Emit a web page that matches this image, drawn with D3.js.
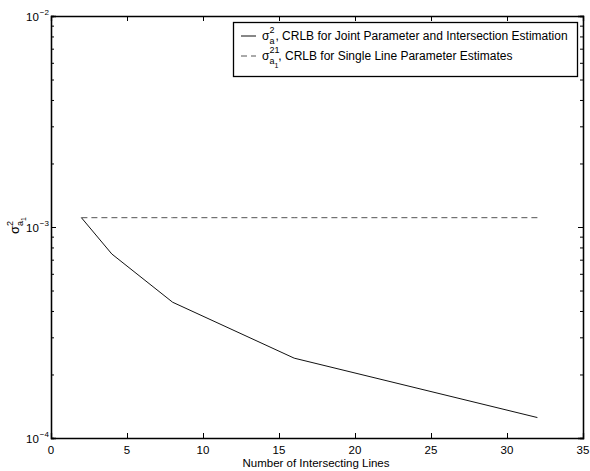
<!DOCTYPE html>
<html>
<head>
<meta charset="utf-8">
<script src="https://cdn.jsdelivr.net/npm/d3@7"></script>
<style>
  body { margin: 0; background: #fff; }
  text { font-family: "Liberation Sans", Arial, Helvetica, sans-serif; fill: #000; }
</style>
</head>
<body>
<div id="chart"></div>
<script>
// data
let lines = [2, 4, 8, 16, 32];
let jointCrlb = [1.107e-3, 7.45e-4, 4.40e-4, 2.39e-4, 1.25e-4];
let singleCrlb = [1.107e-3, 1.107e-3, 1.107e-3, 1.107e-3, 1.107e-3];
let xTicks = [0, 5, 10, 15, 20, 25, 30, 35];
let yTickExp = [-4, -3, -2];

let w = 590, h = 471;
let pLeft = 51, pRight = 583, pTop = 16, pBottom = 438;

let svg = d3.select("#chart").append("svg")
  .attr("width", w)
  .attr("height", h);

let x = d3.scaleLinear().domain([0, 35]).range([pLeft, pRight]);
let y = d3.scaleLog().domain([1e-4, 1e-2]).range([pBottom, pTop]);

// minor log ticks
let minor = [];
for (let e = -4; e < -2; e++) {
  for (let k = 2; k <= 9; k++) minor.push(k * Math.pow(10, e));
}
let major = yTickExp.map(e => Math.pow(10, e));

// axes: ticks inward on all four sides
svg.append("g")
  .attr("transform", "translate(0," + pBottom + ")")
  .call(d3.axisBottom(x).tickValues(xTicks).tickSize(-5).tickFormat(""));
svg.append("g")
  .attr("transform", "translate(0," + pTop + ")")
  .call(d3.axisTop(x).tickValues(xTicks).tickSize(-5).tickFormat(""));
svg.append("g")
  .attr("transform", "translate(" + pLeft + ",0)")
  .call(d3.axisLeft(y).tickValues(major).tickSize(-5).tickFormat(""));
svg.append("g")
  .attr("transform", "translate(" + pRight + ",0)")
  .call(d3.axisRight(y).tickValues(major).tickSize(-5).tickFormat(""));
svg.append("g")
  .attr("transform", "translate(" + pLeft + ",0)")
  .call(d3.axisLeft(y).tickValues(minor).tickSize(-3).tickFormat(""));
svg.append("g")
  .attr("transform", "translate(" + pRight + ",0)")
  .call(d3.axisRight(y).tickValues(minor).tickSize(-3).tickFormat(""));

svg.selectAll(".domain").attr("stroke", "#000").attr("stroke-width", 1.3);
svg.selectAll(".tick line").attr("stroke", "#000");

// x tick labels
svg.selectAll(".xlab")
  .data(xTicks)
  .enter()
  .append("text")
  .attr("x", d => x(d))
  .attr("y", pBottom + 16)
  .attr("text-anchor", "middle")
  .style("font-size", "11.5px")
  .text(d => d);

// y tick labels 10^e
let yl = svg.selectAll(".ylab")
  .data(yTickExp)
  .enter()
  .append("text")
  .attr("x", 26)
  .attr("y", d => y(Math.pow(10, d)) + 5)
  .style("font-size", "11.5px");
yl.append("tspan").text("10");
yl.append("tspan")
  .attr("dy", -6)
  .attr("dx", 1)
  .style("font-size", "8px")
  .text(d => "\u2212" + Math.abs(d));

// axis labels
svg.append("text")
  .attr("x", (pLeft + pRight) / 2 - 1)
  .attr("y", 467)
  .attr("text-anchor", "middle")
  .style("font-size", "11.5px")
  .text("Number of Intersecting Lines");

let ylab = svg.append("text")
  .attr("transform", "translate(19,234) rotate(-90)")
  .style("font-size", "13px");
ylab.append("tspan").text("\u03c3");
ylab.append("tspan").attr("dy", -6).style("font-size", "9px").text("2");
ylab.append("tspan").attr("dx", -5).attr("dy", 10).style("font-size", "9px").text("a");
ylab.append("tspan").attr("dy", 3).style("font-size", "7px").text("1");

// lines
let line = d3.line()
  .x((d, i) => x(lines[i]))
  .y(d => y(d));

svg.append("path")
  .attr("d", line(singleCrlb))
  .attr("fill", "none")
  .attr("stroke", "#555")
  .attr("stroke-width", 1)
  .attr("stroke-dasharray", "6,4");

svg.append("path")
  .attr("d", line(jointCrlb))
  .attr("fill", "none")
  .attr("stroke", "#111")
  .attr("stroke-width", 1);

// legend
let lg = svg.append("g");
lg.append("rect")
  .attr("x", 233.5)
  .attr("y", 22.5)
  .attr("width", 344)
  .attr("height", 54)
  .attr("fill", "#fff")
  .attr("stroke", "#000")
  .attr("stroke-width", 1.3);

let rows = [
  { dash: null, sup: "2", text: ", CRLB for Joint Parameter and Intersection Estimation", sub1: false },
  { dash: "6,4", sup: "21", text: ", CRLB for Single Line Parameter Estimates", sub1: true }
];
rows.forEach((r, i) => {
  let cy = 36 + i * 20;
  lg.append("line")
    .attr("x1", 241).attr("x2", 256)
    .attr("y1", cy).attr("y2", cy)
    .attr("stroke", i ? "#555" : "#111")
    .attr("stroke-dasharray", r.dash);
  let t = lg.append("text").attr("x", 262).attr("y", cy + 4).style("font-size", "12px");
  t.append("tspan").text("\u03c3");
  t.append("tspan").attr("dy", -7).style("font-size", "9px").text(r.sup);
  let back = r.sup.length > 1 ? -10 : -5;
  t.append("tspan").attr("dx", back).attr("dy", 11).style("font-size", "9px").text("a");
  if (r.sub1) {
    t.append("tspan").attr("dy", 4).style("font-size", "7px").text("1");
    t.append("tspan").attr("dy", -8).text(r.text);
  } else {
    t.append("tspan").attr("dx", 1).attr("dy", -4).text(r.text);
  }
});
</script>
</body>
</html>
